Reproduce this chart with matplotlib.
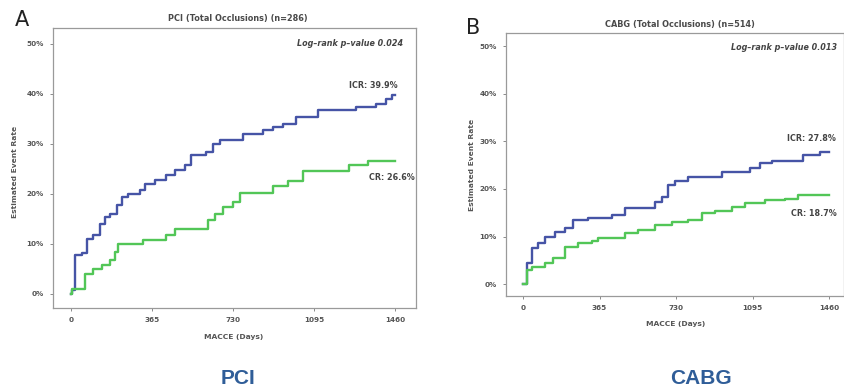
import matplotlib
matplotlib.use("Agg")
import matplotlib.pyplot as plt

# PCI panel (A): Kaplan-Meier style cumulative event rate, % vs days
pci_icr_days = [0, 3, 18, 48, 71, 101, 131, 153, 176, 206, 228, 258, 311, 333, 378, 430, 468, 513,
                543, 610, 640, 670, 775, 865, 910, 955, 1015, 1112, 1284, 1374, 1419, 1449, 1460]
pci_icr_rate = [0, 0.8, 7.8, 8.2, 11.1, 11.8, 14.1, 15.5, 16.1, 17.8, 19.5, 20.1, 20.8, 22.1, 22.8, 23.8, 24.8, 25.8,
                27.8, 28.5, 30.1, 30.8, 32.0, 32.8, 33.5, 34.1, 35.5, 36.8, 37.5, 38.1, 39.1, 39.9, 39.9]
pci_cr_days = [0, 3, 63, 101, 139, 176, 198, 213, 326, 430, 468, 618, 648, 685, 730, 761, 910, 977,
               1044, 1254, 1337, 1460]
pci_cr_rate = [0, 1.0, 4.1, 5.1, 5.8, 6.8, 8.5, 10.1, 10.8, 11.8, 13.1, 14.8, 16.1, 17.5, 18.5, 20.3, 21.6, 22.7,
               24.6, 25.8, 26.6, 26.6]

# CABG panel (B)
cabg_icr_days = [0, 1, 18, 41, 73, 105, 153, 200, 240, 312, 423, 487, 630, 662, 693, 725, 789, 948,
                 1083, 1131, 1187, 1337, 1417, 1460]
cabg_icr_rate = [0, 0.1, 4.4, 7.5, 8.6, 10.0, 11.0, 11.7, 13.5, 14.0, 14.5, 16.1, 17.3, 18.4, 20.8, 21.7, 22.6, 23.6,
                 24.4, 25.4, 25.9, 27.2, 27.8, 27.8]
cabg_cr_days = [0, 18, 41, 105, 145, 200, 264, 328, 359, 455, 487, 550, 630, 709, 789, 852, 916, 996,
                1059, 1155, 1250, 1314, 1460]
cabg_cr_rate = [0, 2.9, 3.6, 4.4, 5.4, 7.9, 8.6, 9.1, 9.6, 9.8, 10.7, 11.4, 12.4, 13.1, 13.5, 14.9, 15.4, 16.3,
                17.0, 17.7, 18.0, 18.7, 18.7]

x_ticks = [0, 365, 730, 1095, 1460]
y_ticks = [0, 10, 20, 30, 40, 50]
y_tick_labels = ["0%", "10%", "20%", "30%", "40%", "50%"]

BLUE = "#4654a6"
GREEN = "#52c657"
TEXT = "#444444"
W, H = 845, 391


def px(x, y):
    # pixel coords (from top-left) -> figure fraction
    return x / W, 1 - y / H


def setup_axes(ax, xlim, ylim):
    ax.set_xlim(*xlim)
    ax.set_ylim(*ylim)
    ax.set_xticks(x_ticks)
    ax.set_xticklabels([str(t) for t in x_ticks])
    ax.set_yticks(y_ticks)
    ax.set_yticklabels(y_tick_labels)
    ax.tick_params(labelsize=5.2, colors="#777777", labelcolor="#555555", length=2.5, width=0.6, pad=4)
    for lab in ax.get_xticklabels() + ax.get_yticklabels():
        lab.set_fontweight("bold")
    for s in ax.spines.values():
        s.set_color("#9a9a9a")
        s.set_linewidth(0.9)


def annotate(ax, x, y, s, italic=False):
    ax.text(x, y, s, ha="right", va="center", fontsize=5.8, weight="bold",
            style="italic" if italic else "normal", color=TEXT)


fig = plt.figure(figsize=(W / 100, H / 100), dpi=100)

# panel A
ax1 = fig.add_axes([53 / W, 1 - 308 / H, (416 - 53) / W, (308 - 28) / H])
ax1.step(pci_icr_days, pci_icr_rate, where="post", color=BLUE, lw=1.7)
ax1.step(pci_cr_days, pci_cr_rate, where="post", color=GREEN, lw=1.7)
setup_axes(ax1, (-81, 1555), (-2.8, 53.2))
annotate(ax1, 1496, 50.2, "Log\u2013rank p\u2013value 0.024", italic=True)
annotate(ax1, 1474, 41.8, "ICR: 39.9%")
annotate(ax1, 1550, 23.2, "CR: 26.6%")

# panel B
ax2 = fig.add_axes([506 / W, 1 - 296 / H, (844 - 506) / W, (296 - 33) / H])
ax2.step(cabg_icr_days, cabg_icr_rate, where="post", color=BLUE, lw=1.7)
ax2.step(cabg_cr_days, cabg_cr_rate, where="post", color=GREEN, lw=1.7)
setup_axes(ax2, (-81, 1531), (-2.5, 52.8))
annotate(ax2, 1498, 49.7, "Log\u2013rank p\u2013value 0.013", italic=True)
annotate(ax2, 1493, 30.7, "ICR: 27.8%")
annotate(ax2, 1498, 14.9, "CR: 18.7%")

# titles, panel letters, axis labels
fig.text(*px(238, 18), "PCI (Total Occlusions) (n=286)", ha="center", va="center",
         fontsize=5.9, weight="bold", color="#4a4a4a")
fig.text(*px(680, 25), "CABG (Total Occlusions) (n=514)", ha="center", va="center",
         fontsize=5.9, weight="bold", color="#4a4a4a")
fig.text(*px(22, 20), "A", ha="center", va="center", fontsize=15, color="#222222")
fig.text(*px(473, 28), "B", ha="center", va="center", fontsize=15, color="#222222")
fig.text(*px(15, 172), "Estimated Event Rate", rotation=90, ha="center", va="center",
         fontsize=5.4, weight="bold", color="#555555")
fig.text(*px(472, 165), "Estimated Event Rate", rotation=90, ha="center", va="center",
         fontsize=5.4, weight="bold", color="#555555")
fig.text(*px(234, 337), "MACCE (Days)", ha="center", va="center", fontsize=5.4, weight="bold", color="#555555")
fig.text(*px(676, 324), "MACCE (Days)", ha="center", va="center", fontsize=5.4, weight="bold", color="#555555")

# group labels at the bottom
fig.text(*px(238, 378), "PCI", ha="center", va="center", fontsize=15, weight="bold",
         color="#2f5d98", family="Liberation Sans")
fig.text(*px(701, 378), "CABG", ha="center", va="center", fontsize=15, weight="bold",
         color="#2f5d98", family="Liberation Sans")

fig.savefig("out.png", dpi=100)
